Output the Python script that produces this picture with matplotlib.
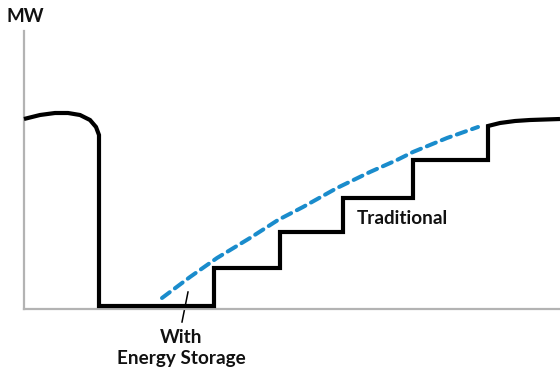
import matplotlib
matplotlib.use("Agg")
import matplotlib.pyplot as plt

plt.rcParams['font.family'] = ['Lato', 'DejaVu Sans']

# Traditional supply profile (x, MW) in chart units
trad_x = [0, 16, 31, 44, 56, 66, 72, 75, 75, 190, 190, 256, 256, 319, 319, 389, 389, 464, 464, 476, 491, 506, 536]
trad_y = [190, 194, 196, 196, 194, 189, 182, 174, 3, 3, 41, 41, 77, 77, 111, 111, 149, 149, 183, 186, 188, 189, 190]

# With energy storage ramp
stor_x = [138, 166, 193, 226, 254, 279, 313, 346, 373, 389, 423, 454]
stor_y = [11, 32, 51, 71, 89, 102, 121, 137, 149, 157, 171, 182]

W, H = 560, 374
fig = plt.figure(figsize=(W / 100, H / 100), dpi=100)
ax = fig.add_axes([24 / W, (H - 309) / H, (W - 24) / W, (309 - 31) / H])
ax.set_xlim(0, 536)
ax.set_ylim(0, 278)

for s in ['top', 'right']:
    ax.spines[s].set_visible(False)
for s in ['left', 'bottom']:
    ax.spines[s].set_color('#b3b3b3')
    ax.spines[s].set_linewidth(1.6)
ax.set_xticks([])
ax.set_yticks([])

ax.plot(trad_x, trad_y, color='black', lw=3.0, solid_joinstyle='miter',
        solid_capstyle='butt', clip_on=False, zorder=3)
ax.plot(stor_x, stor_y, color='#1a8ccc', lw=2.9, dashes=(2.4, 1.6),
        dash_capstyle='round', clip_on=False, zorder=3)

# annotation leader
ax.plot([164, 158], [17, -13], color='black', lw=1.1, clip_on=False)

fs = 13.6
ax.text(157, -20, 'With\nEnergy Storage', ha='center', va='top', fontsize=fs,
        fontweight='bold', linespacing=1.28, color='#111111')
ax.text(378, 91, 'Traditional', ha='center', va='center', fontsize=fs,
        fontweight='bold', color='#111111')
ax.text(1, 292, 'MW', ha='center', va='center', fontsize=fs,
        fontweight='bold', color='#111111', clip_on=False)

fig.savefig('out.png', dpi=100)
